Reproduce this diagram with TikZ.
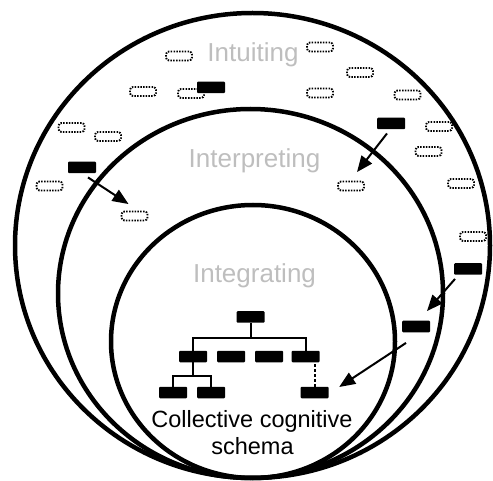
\documentclass[tikz,border=0pt]{standalone}
\usepackage{fontspec}
\setmainfont{Liberation Sans}
\usetikzlibrary{arrows.meta,calc}
\definecolor{stagegray}{RGB}{190,190,190}

\begin{document}
\begin{tikzpicture}[x=1pt,y=-1pt,
  ring/.style={line width=4.5pt},
  idea/.style={draw, dash pattern=on 1.5pt off 1.3pt, line width=1.9pt,
    rounded corners=3pt, minimum width=26pt, minimum height=9pt,
    inner sep=0pt, fill=white},
  unit/.style={fill=black, minimum width=28pt, minimum height=11.5pt,
    inner sep=0pt, rounded corners=1pt},
  stage/.style={text=stagegray, font=\fontsize{26}{30}\selectfont, anchor=base},
  caption/.style={font=\fontsize{23.5}{27}\selectfont, anchor=base},
  flow/.style={line width=2pt, -{Triangle[length=16pt,width=13pt]}},
  link/.style={line width=2pt},
]
\useasboundingbox (0,0) rectangle (493,481);

% the three nested learning stages
\draw[ring] (252.5,245.5) ellipse [x radius=237.5, y radius=232.5];
\draw[ring] (250.5,293.5) ellipse [x radius=192.5, y radius=184.5];
\draw[ring] (253,341.5) ellipse [x radius=142, y radius=136.5];

% stage labels
\node[stage] (intuiting) at (253,61.5) {Intuiting};
\node[stage] (interpreting) at (254.5,168) {Interpreting};
\node[stage] (integrating) at (254.5,283) {Integrating};

% loose, unformed ideas
\node[idea] (d1) at (179,56) {};
\node[idea] (d2) at (143,91.5) {};
\node[idea] (d3) at (191,93.5) {};
\node[idea] (d4) at (71.5,127.5) {};
\node[idea] (d5) at (108,136.5) {};
\node[idea] (d6) at (49.5,186) {};
\node[idea] (d7) at (134.5,216) {};
\node[idea] (d8) at (320,47) {};
\node[idea] (d9) at (360,72.5) {};
\node[idea] (d10) at (320,93) {};
\node[idea] (d11) at (407.5,95) {};
\node[idea] (d12) at (439,126.5) {};
\node[idea] (d13) at (428.5,151.5) {};
\node[idea] (d14) at (351,186) {};
\node[idea] (d15) at (461,183.5) {};
\node[idea] (d16) at (473,236.5) {};

% formed ideas
\node[unit] (b0) at (211,87.5) {};
\node[unit] (b1) at (82,167.5) {};
\node[unit] (b3) at (391,123.5) {};
\node[unit] (b4) at (468,269) {};
\node[unit] (b5) at (416,326.5) {};

% schema hierarchy
\node[unit] (r) at (250.5,317) {};
\node[unit] (t1) at (193,356.5) {};
\node[unit] (t2) at (231,356.5) {};
\node[unit] (t3) at (269,356.5) {};
\node[unit] (t4) at (305.5,356.5) {};
\node[unit] (t5) at (173,392.5) {};
\node[unit] (t6) at (211,392.5) {};
\node[unit] (t7) at (314.5,392.5) {};
\coordinate (j1) at (250.5,338);
\coordinate (j2) at (193,376);
\draw[link] (r.south) -- (j1);
\draw[link] (t1.north) |- (j1) -| (t4.north);
\draw[link] (t1.south) -- (j2);
\draw[link] (t5.north) |- (j2) -| (t6.north);
\draw[link, dash pattern=on 3pt off 2pt] (t7.north) -- (t7.north |- t4.south);

\node[caption] (schema1) at (252,427) {Collective cognitive};
\node[caption] (schema2) at (252.5,454) {schema};

% movement of ideas between stages
\draw[flow] ($(b1.south)+(6,4)$) -- ($(d7.north)+(-6,-6.5)$);
\draw[flow] ($(b3.south)+(-4,4)$) -- ($(d14.north)+(6,-8.5)$);
\draw[flow] ($(b4.south)+(-13,4)$) -- ($(b5.north)+(11,-9.5)$);
\draw[flow] ($(b5.south)+(-10,10.5)$) -- ($(t7.east)+(10.5,-5.5)$);
\end{tikzpicture}
\end{document}
